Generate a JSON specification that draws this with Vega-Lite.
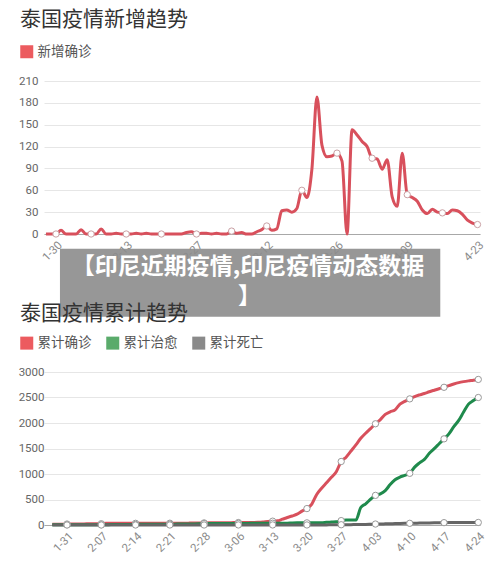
{
  "$schema": "https://vega.github.io/schema/vega-lite/v6.json",
  "background": "white",
  "padding": {"left": 18, "top": 9, "right": 10, "bottom": 0},
  "config": {
    "font": "Noto Sans CJK SC",
    "view": {"stroke": null}
  },
  "columns": 1,
  "spacing": -14,
  "resolve": {"scale": {"color": "independent"}, "legend": {"color": "independent"}},
  "concat": [
    {
      "width": 436,
      "height": 153,
      "title": {"text": "泰国疫情新增趋势", "anchor": "start", "frame": "group", "dx": -24, "fontSize": 21, "fontWeight": "normal", "color": "#333333", "offset": 15},
      "layer": [
        {
          "data": {"values": [
            {"date":"2020-01-28","value":0},{"date":"2020-01-29","value":0},{"date":"2020-01-30","value":0},{"date":"2020-01-31","value":5},
            {"date":"2020-02-01","value":0},{"date":"2020-02-02","value":0},{"date":"2020-02-03","value":0},{"date":"2020-02-04","value":6},{"date":"2020-02-05","value":0},{"date":"2020-02-06","value":0},{"date":"2020-02-07","value":0},{"date":"2020-02-08","value":7},{"date":"2020-02-09","value":0},{"date":"2020-02-10","value":0},{"date":"2020-02-11","value":1},{"date":"2020-02-12","value":0},{"date":"2020-02-13","value":0},{"date":"2020-02-14","value":0},{"date":"2020-02-15","value":1},{"date":"2020-02-16","value":0},{"date":"2020-02-17","value":1},{"date":"2020-02-18","value":0},{"date":"2020-02-19","value":0},{"date":"2020-02-20","value":0},{"date":"2020-02-21","value":0},{"date":"2020-02-22","value":0},{"date":"2020-02-23","value":0},{"date":"2020-02-24","value":0},{"date":"2020-02-25","value":2},{"date":"2020-02-26","value":3},{"date":"2020-02-27","value":0},{"date":"2020-02-28","value":1},{"date":"2020-02-29","value":1},
            {"date":"2020-03-01","value":0},{"date":"2020-03-02","value":1},{"date":"2020-03-03","value":0},{"date":"2020-03-04","value":0},{"date":"2020-03-05","value":4},{"date":"2020-03-06","value":1},{"date":"2020-03-07","value":2},{"date":"2020-03-08","value":0},{"date":"2020-03-09","value":0},{"date":"2020-03-10","value":3},{"date":"2020-03-11","value":6},{"date":"2020-03-12","value":11},{"date":"2020-03-13","value":5},{"date":"2020-03-14","value":7},{"date":"2020-03-15","value":32},{"date":"2020-03-16","value":33},{"date":"2020-03-17","value":30},{"date":"2020-03-18","value":35},{"date":"2020-03-19","value":60},{"date":"2020-03-20","value":50},{"date":"2020-03-21","value":89},{"date":"2020-03-22","value":188},{"date":"2020-03-23","value":122},{"date":"2020-03-24","value":106},{"date":"2020-03-25","value":107},{"date":"2020-03-26","value":111},{"date":"2020-03-27","value":100},{"date":"2020-03-28","value":0},{"date":"2020-03-29","value":143},{"date":"2020-03-30","value":136},{"date":"2020-03-31","value":127},
            {"date":"2020-04-01","value":120},{"date":"2020-04-02","value":104},{"date":"2020-04-03","value":103},{"date":"2020-04-04","value":89},{"date":"2020-04-05","value":102},{"date":"2020-04-06","value":51},{"date":"2020-04-07","value":38},{"date":"2020-04-08","value":111},{"date":"2020-04-09","value":54},{"date":"2020-04-10","value":50},{"date":"2020-04-11","value":45},{"date":"2020-04-12","value":33},{"date":"2020-04-13","value":28},{"date":"2020-04-14","value":34},{"date":"2020-04-15","value":30},{"date":"2020-04-16","value":29},{"date":"2020-04-17","value":28},{"date":"2020-04-18","value":33},{"date":"2020-04-19","value":32},{"date":"2020-04-20","value":27},{"date":"2020-04-21","value":19},{"date":"2020-04-22","value":15},{"date":"2020-04-23","value":13}
          ]},
          "encoding": {
            "x": {"field": "date", "type": "temporal", "title": null,
              "scale": {"type": "utc", "nice": false, "domain": [{"year":2020,"month":1,"date":27,"hours":14,"minutes":40,"utc":true},{"year":2020,"month":4,"date":23,"hours":12,"utc":true}]},
              "axis": {"values": [
                {"year":2020,"month":1,"date":30,"utc":true},{"year":2020,"month":2,"date":6,"utc":true},{"year":2020,"month":2,"date":13,"utc":true},{"year":2020,"month":2,"date":20,"utc":true},{"year":2020,"month":2,"date":27,"utc":true},{"year":2020,"month":3,"date":5,"utc":true},{"year":2020,"month":3,"date":12,"utc":true},{"year":2020,"month":3,"date":19,"utc":true},{"year":2020,"month":3,"date":26,"utc":true},{"year":2020,"month":4,"date":2,"utc":true},{"year":2020,"month":4,"date":9,"utc":true},{"year":2020,"month":4,"date":16,"utc":true},{"year":2020,"month":4,"date":23,"utc":true}],
                "labelExpr": "utcFormat(datum.value, '%-m-%d')", "labelAngle": -45, "labelFontSize": 11.5, "labelColor": "#8a8a8a", "labelFont": "Roboto",
                "ticks": false, "grid": false, "domainColor": "#a8a8a8", "labelPadding": 5, "labelOverlap": false, "labelFlush": false}},
            "y": {"field": "value", "type": "quantitative", "title": null,
              "scale": {"domain": [0, 210], "nice": false},
              "axis": {"values": [0,30,60,90,120,150,180,210], "labelFontSize": 11.5, "labelColor": "#666666", "labelFont": "Roboto", "ticks": false, "domain": false, "gridColor": "#e6e6e6", "labelPadding": 6}},
            "color": {"datum": "新增确诊", "type": "nominal", "scale": {"range": ["#d8505c"]},
              "legend": {"orient": "none", "legendX": -24, "legendY": -36, "title": null, "direction": "horizontal", "symbolType": "square", "symbolSize": 169, "symbolStrokeWidth": 0, "labelFontSize": 13.5, "labelColor": "#555555", "labelOffset": 4, "padding": 0,
                "encode": {"symbols": {"update": {"fill": {"value": "#ec5b5f"}, "stroke": {"value": "transparent"}, "shape": {"value": "square"}}}}}}
          },
          "layer": [
            {"mark": {"type": "line", "interpolate": "monotone", "strokeWidth": 3, "clip": false}},
            {
              "transform": [{"filter": "(+toDate(datum.date) - utc(2020,0,30)) % 604800000 === 0"}],
              "mark": {"type": "point", "filled": true, "fill": "white", "stroke": "#c9a0a4", "strokeWidth": 1, "size": 40, "opacity": 1},
              "encoding": {"color": {"value": "white"}}
            }
          ]
        },
        {
          "data": {"values": [{"banner": "【印尼近期疫情,印尼疫情动态数据", "close": "】"}]},
          "layer": [
            {
              "mark": {"type": "rect", "color": "#8c8c8c", "opacity": 0.9, "clip": false},
              "encoding": {
                "x": {"datum": {"year":2020,"month":1,"date":30,"hours":19,"utc":true}, "type": "temporal"},
                "x2": {"datum": {"year":2020,"month":4,"date":15,"hours":14,"utc":true}},
                "y": {"datum": -20.2, "type": "quantitative", "axis": {"values": [0,30,60,90,120,150,180,210], "labelFontSize": 11.5, "labelColor": "#666666", "labelFont": "Roboto", "ticks": false, "domain": false, "gridColor": "#e6e6e6", "labelPadding": 6, "title": null}},
                "y2": {"datum": -113.5}
              }
            },
            {
              "mark": {"type": "text", "color": "white", "fontSize": 23, "fontWeight": "bold", "baseline": "middle", "align": "center", "clip": false},
              "encoding": {
                "x": {"datum": {"year":2020,"month":3,"date":8,"hours":6,"utc":true}, "type": "temporal"},
                "y": {"datum": -44.9, "type": "quantitative", "axis": {"values": [0,30,60,90,120,150,180,210], "labelFontSize": 11.5, "labelColor": "#666666", "labelFont": "Roboto", "ticks": false, "domain": false, "gridColor": "#e6e6e6", "labelPadding": 6, "title": null}},
                "text": {"field": "banner"}
              }
            },
            {
              "mark": {"type": "text", "color": "white", "fontSize": 23, "fontWeight": "bold", "baseline": "middle", "align": "center", "clip": false},
              "encoding": {
                "x": {"datum": {"year":2020,"month":3,"date":8,"hours":14,"utc":true}, "type": "temporal"},
                "y": {"datum": -86, "type": "quantitative", "axis": {"values": [0,30,60,90,120,150,180,210], "labelFontSize": 11.5, "labelColor": "#666666", "labelFont": "Roboto", "ticks": false, "domain": false, "gridColor": "#e6e6e6", "labelPadding": 6, "title": null}},
                "text": {"field": "close"}
              }
            }
          ]
        }
      ]
    },
    {
      "width": 436,
      "height": 153,
      "title": {"text": "泰国疫情累计趋势", "anchor": "start", "frame": "group", "dx": -24, "fontSize": 21, "fontWeight": "normal", "color": "#333333", "offset": 12},
      "data": {"values": [
        {"date":"2020-01-28","累计确诊":14,"累计治愈":5,"累计死亡":0},{"date":"2020-01-29","累计确诊":14,"累计治愈":5,"累计死亡":0},{"date":"2020-01-30","累计确诊":14,"累计治愈":5,"累计死亡":0},{"date":"2020-01-31","累计确诊":19,"累计治愈":5,"累计死亡":0},
        {"date":"2020-02-01","累计确诊":19,"累计治愈":5,"累计死亡":0},{"date":"2020-02-02","累计确诊":19,"累计治愈":5,"累计死亡":0},{"date":"2020-02-03","累计确诊":19,"累计治愈":5,"累计死亡":0},{"date":"2020-02-04","累计确诊":25,"累计治愈":5,"累计死亡":0},{"date":"2020-02-05","累计确诊":25,"累计治愈":5,"累计死亡":0},{"date":"2020-02-06","累计确诊":25,"累计治愈":5,"累计死亡":0},{"date":"2020-02-07","累计确诊":25,"累计治愈":5,"累计死亡":0},{"date":"2020-02-08","累计确诊":32,"累计治愈":5,"累计死亡":0},{"date":"2020-02-09","累计确诊":32,"累计治愈":8,"累计死亡":0},{"date":"2020-02-10","累计确诊":32,"累计治愈":8,"累计死亡":0},{"date":"2020-02-11","累计确诊":33,"累计治愈":10,"累计死亡":0},{"date":"2020-02-12","累计确诊":33,"累计治愈":10,"累计死亡":0},{"date":"2020-02-13","累计确诊":33,"累计治愈":12,"累计死亡":0},{"date":"2020-02-14","累计确诊":33,"累计治愈":12,"累计死亡":0},{"date":"2020-02-15","累计确诊":34,"累计治愈":14,"累计死亡":0},{"date":"2020-02-16","累计确诊":34,"累计治愈":14,"累计死亡":0},{"date":"2020-02-17","累计确诊":35,"累计治愈":15,"累计死亡":0},{"date":"2020-02-18","累计确诊":35,"累计治愈":15,"累计死亡":0},{"date":"2020-02-19","累计确诊":35,"累计治愈":15,"累计死亡":0},{"date":"2020-02-20","累计确诊":35,"累计治愈":15,"累计死亡":0},{"date":"2020-02-21","累计确诊":35,"累计治愈":17,"累计死亡":0},{"date":"2020-02-22","累计确诊":35,"累计治愈":17,"累计死亡":0},{"date":"2020-02-23","累计确诊":35,"累计治愈":21,"累计死亡":0},{"date":"2020-02-24","累计确诊":35,"累计治愈":21,"累计死亡":0},{"date":"2020-02-25","累计确诊":37,"累计治愈":22,"累计死亡":0},{"date":"2020-02-26","累计确诊":40,"累计治愈":22,"累计死亡":0},{"date":"2020-02-27","累计确诊":40,"累计治愈":24,"累计死亡":0},{"date":"2020-02-28","累计确诊":41,"累计治愈":28,"累计死亡":0},{"date":"2020-02-29","累计确诊":42,"累计治愈":28,"累计死亡":0},
        {"date":"2020-03-01","累计确诊":42,"累计治愈":28,"累计死亡":1},{"date":"2020-03-02","累计确诊":43,"累计治愈":31,"累计死亡":1},{"date":"2020-03-03","累计确诊":43,"累计治愈":31,"累计死亡":1},{"date":"2020-03-04","累计确诊":43,"累计治愈":31,"累计死亡":1},{"date":"2020-03-05","累计确诊":47,"累计治愈":31,"累计死亡":1},{"date":"2020-03-06","累计确诊":48,"累计治愈":31,"累计死亡":1},{"date":"2020-03-07","累计确诊":50,"累计治愈":31,"累计死亡":1},{"date":"2020-03-08","累计确诊":50,"累计治愈":31,"累计死亡":1},{"date":"2020-03-09","累计确诊":50,"累计治愈":33,"累计死亡":1},{"date":"2020-03-10","累计确诊":53,"累计治愈":33,"累计死亡":1},{"date":"2020-03-11","累计确诊":59,"累计治愈":33,"累计死亡":1},{"date":"2020-03-12","累计确诊":70,"累计治愈":34,"累计死亡":1},{"date":"2020-03-13","累计确诊":75,"累计治愈":35,"累计死亡":1},{"date":"2020-03-14","累计确诊":82,"累计治愈":35,"累计死亡":1},{"date":"2020-03-15","累计确诊":114,"累计治愈":35,"累计死亡":1},{"date":"2020-03-16","累计确诊":147,"累计治愈":35,"累计死亡":1},{"date":"2020-03-17","累计确诊":177,"累计治愈":41,"累计死亡":1},{"date":"2020-03-18","累计确诊":212,"累计治愈":42,"累计死亡":1},{"date":"2020-03-19","累计确诊":272,"累计治愈":42,"累计死亡":1},{"date":"2020-03-20","累计确诊":322,"累计治愈":42,"累计死亡":1},{"date":"2020-03-21","累计确诊":411,"累计治愈":42,"累计死亡":1},{"date":"2020-03-22","累计确诊":599,"累计治愈":44,"累计死亡":1},{"date":"2020-03-23","累计确诊":721,"累计治愈":44,"累计死亡":1},{"date":"2020-03-24","累计确诊":827,"累计治愈":52,"累计死亡":1},{"date":"2020-03-25","累计确诊":934,"累计治愈":57,"累计死亡":4},{"date":"2020-03-26","累计确诊":1045,"累计治愈":62,"累计死亡":4},{"date":"2020-03-27","累计确诊":1245,"累计治愈":86,"累计死亡":5},{"date":"2020-03-28","累计确诊":1330,"累计治愈":97,"累计死亡":6},{"date":"2020-03-29","累计确诊":1450,"累计治愈":97,"累计死亡":7},{"date":"2020-03-30","累计确诊":1570,"累计治愈":97,"累计死亡":9},{"date":"2020-03-31","累计确诊":1700,"累计治愈":342,"累计死亡":10},
        {"date":"2020-04-01","累计确诊":1800,"累计治愈":416,"累计死亡":12},{"date":"2020-04-02","累计确诊":1890,"累计治愈":505,"累计死亡":15},{"date":"2020-04-03","累计确诊":1985,"累计治愈":581,"累计死亡":19},{"date":"2020-04-04","累计确诊":2067,"累计治愈":612,"累计死亡":20},{"date":"2020-04-05","累计确诊":2169,"累计治愈":674,"累计死亡":23},{"date":"2020-04-06","累计确诊":2220,"累计治愈":793,"累计死亡":26},{"date":"2020-04-07","累计确诊":2258,"累计治愈":888,"累计死亡":27},{"date":"2020-04-08","累计确诊":2369,"累计治愈":940,"累计死亡":30},{"date":"2020-04-09","累计确诊":2423,"累计治愈":974,"累计死亡":32},{"date":"2020-04-10","累计确诊":2473,"累计治愈":1013,"累计死亡":33},{"date":"2020-04-11","累计确诊":2518,"累计治愈":1135,"累计死亡":35},{"date":"2020-04-12","累计确诊":2551,"累计治愈":1218,"累计死亡":38},{"date":"2020-04-13","累计确诊":2579,"累计治愈":1288,"累计死亡":40},{"date":"2020-04-14","累计确诊":2613,"累计治愈":1405,"累计死亡":41},{"date":"2020-04-15","累计确诊":2643,"累计治愈":1497,"累计死亡":43},{"date":"2020-04-16","累计确诊":2672,"累计治愈":1593,"累计死亡":46},{"date":"2020-04-17","累计确诊":2700,"累计治愈":1689,"累计死亡":46},{"date":"2020-04-18","累计确诊":2733,"累计治愈":1787,"累计死亡":47},{"date":"2020-04-19","累计确诊":2765,"累计治愈":1928,"累计死亡":47},{"date":"2020-04-20","累计确诊":2792,"累计治愈":2050,"累计死亡":47},{"date":"2020-04-21","累计确诊":2811,"累计治愈":2215,"累计死亡":47},{"date":"2020-04-22","累计确诊":2826,"累计治愈":2370,"累计死亡":47},{"date":"2020-04-23","累计确诊":2839,"累计治愈":2440,"累计死亡":49},{"date":"2020-04-24","累计确诊":2854,"累计治愈":2500,"累计死亡":50}
      ]},
      "transform": [{"fold": ["累计确诊", "累计治愈", "累计死亡"], "as": ["series", "value"]}],
      "encoding": {
        "x": {"field": "date", "type": "temporal", "title": null,
          "scale": {"type": "utc", "nice": false, "domain": [{"year":2020,"month":1,"date":26,"hours":7,"minutes":12,"utc":true},{"year":2020,"month":4,"date":24,"hours":8,"minutes":24,"utc":true}]},
          "axis": {"values": [
            {"year":2020,"month":1,"date":31,"utc":true},{"year":2020,"month":2,"date":7,"utc":true},{"year":2020,"month":2,"date":14,"utc":true},{"year":2020,"month":2,"date":21,"utc":true},{"year":2020,"month":2,"date":28,"utc":true},{"year":2020,"month":3,"date":6,"utc":true},{"year":2020,"month":3,"date":13,"utc":true},{"year":2020,"month":3,"date":20,"utc":true},{"year":2020,"month":3,"date":27,"utc":true},{"year":2020,"month":4,"date":3,"utc":true},{"year":2020,"month":4,"date":10,"utc":true},{"year":2020,"month":4,"date":17,"utc":true},{"year":2020,"month":4,"date":24,"utc":true}],
            "labelExpr": "utcFormat(datum.value, '%-m-%d')", "labelAngle": -45, "labelFontSize": 11.5, "labelColor": "#8a8a8a", "labelFont": "Roboto",
            "ticks": false, "grid": false, "domainColor": "#a8a8a8", "labelPadding": 5, "labelOverlap": false, "labelFlush": false}},
        "y": {"field": "value", "type": "quantitative", "title": null,
          "scale": {"domain": [0, 3000], "nice": false},
          "axis": {"values": [0,500,1000,1500,2000,2500,3000], "format": "d", "labelFontSize": 11.5, "labelColor": "#666666", "labelFont": "Roboto", "ticks": false, "domain": false, "gridColor": "#e6e6e6", "labelPadding": 0}}
      },
      "layer": [
        {
          "mark": {"type": "line", "interpolate": "monotone", "strokeWidth": 3, "clip": false},
          "encoding": {
            "color": {"field": "series", "type": "nominal", "sort": ["累计确诊", "累计治愈", "累计死亡"],
              "scale": {"domain": ["累计确诊", "累计治愈", "累计死亡"], "range": ["#d8505c", "#1f8a4c", "#666666"]},
              "legend": {"orient": "none", "legendX": -24, "legendY": -36, "title": null, "direction": "horizontal", "symbolType": "square", "symbolSize": 169, "symbolStrokeWidth": 0, "labelFontSize": 13.5, "labelColor": "#555555", "labelOffset": 4, "columnPadding": 14, "padding": 0,
                "encode": {"symbols": {"update": {"fill": {"signal": "datum.value === '累计确诊' ? '#ec5b5f' : datum.value === '累计治愈' ? '#5aab6b' : '#8a8a8a'"}, "stroke": {"value": "transparent"}, "shape": {"value": "square"}}}}}}
          }
        },
        {
          "transform": [{"filter": "(+toDate(datum.date) - utc(2020,0,31)) % 604800000 === 0"}],
          "mark": {"type": "point", "filled": true, "fill": "white", "stroke": "#999999", "strokeWidth": 1, "size": 40, "opacity": 1},
          "encoding": {"detail": {"field": "series"}}
        }
      ]
    }
  ]
}
